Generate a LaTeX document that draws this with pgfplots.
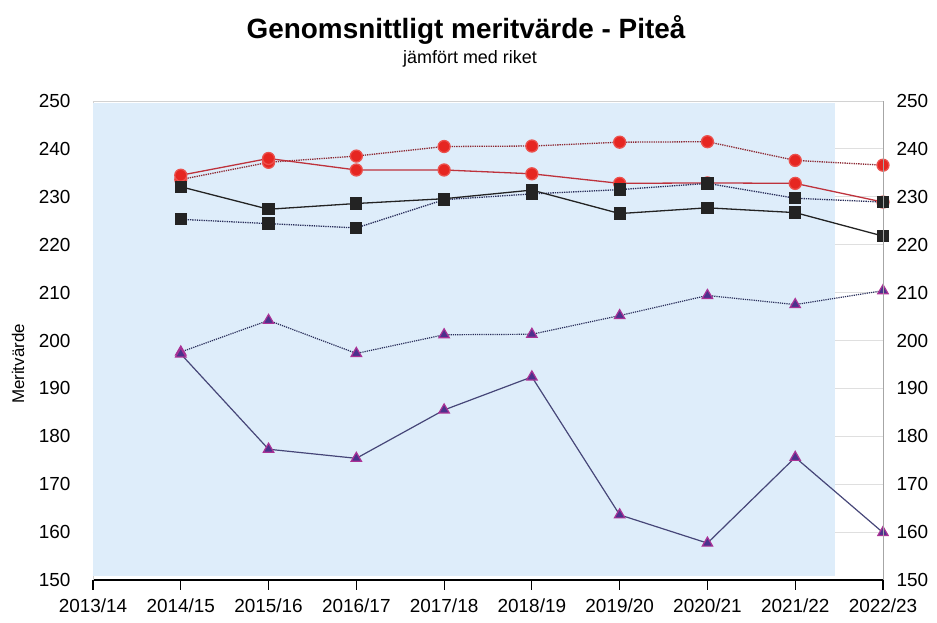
\documentclass[border=0pt]{standalone}
\usepackage{fontspec}
\setmainfont{Liberation Sans}
\usepackage{pgfplots}
\usepackage{pgfplotstable}
\pgfplotsset{compat=1.18}
\definecolor{bgblue}{RGB}{222,237,250}
\definecolor{redfill}{RGB}{230,38,33}
\definecolor{redline}{RGB}{190,50,60}
\definecolor{reddot}{RGB}{140,40,50}
\definecolor{sqfill}{RGB}{35,35,35}
\definecolor{navydot}{RGB}{40,45,90}
\definecolor{trifill}{RGB}{75,50,140}
\definecolor{triedge}{RGB}{170,50,150}
\definecolor{triline}{RGB}{70,70,120}
\pgfplotstableread{
x rd rs bs bd td ts
1 233.6 234.5 232.1 225.3 197.6 197.2
2 237.2 238.0 227.4 224.4 204.2 177.3
3 238.5 235.6 228.6 223.5 197.3 175.4
4 240.5 235.6 229.6 229.4 201.2 185.5
5 240.6 234.8 231.4 230.6 201.3 192.4
6 241.4 232.8 226.5 231.5 205.2 163.6
7 241.5 232.9 227.7 232.8 209.4 157.7
8 237.6 232.8 226.7 229.7 207.5 175.6
9 236.6 228.9 221.8 228.9 210.4 159.9
}\data
\begin{document}
\begin{tikzpicture}
\path[use as bounding box] (-93bp,-43bp) rectangle (844bp,580bp);
\begin{axis}[
  at={(0,0)}, anchor=south west,
  scale only axis, width=790bp, height=479bp,
  xmin=0, xmax=9, ymin=150, ymax=250,
  axis x line*=bottom, axis y line*=left,
  x axis line style={black, line width=1.2bp, -},
  y axis line style={gray!35, -},
  xtick={0,...,9},
  xticklabels={2013/14,2014/15,2015/16,2016/17,2017/18,2018/19,2019/20,2020/21,2021/22,2022/23},
  x tick style={black, line width=1.2bp},
  major tick length=10bp,
  tick align=outside,
  ytick={150,160,...,250},
  y tick style={draw=none},
  ymajorgrids, grid style={gray!25, line width=0.8bp},
  tick label style={font=\fontsize{19}{22}\selectfont},
  yticklabel style={xshift=-9bp},
  xticklabel style={yshift=-5bp},
  /pgf/number format/assume math mode=true,
  clip=false,
]
\fill[bgblue] (axis cs:0,150.8) rectangle (axis cs:8.45,249.6);
\draw[gray!35] (axis cs:0,250) -- (axis cs:9,250);
\addplot[reddot, densely dotted, line width=1.3bp, mark=*, mark size=6bp, mark options={solid, fill=redfill, draw=redfill!80!white}] table[x=x,y=rd]{\data};
\addplot[redline, line width=1.3bp, mark=*, mark size=6bp, mark options={solid, fill=redfill, draw=redfill!80!white}] table[x=x,y=rs]{\data};
\addplot[navydot, densely dotted, line width=1.3bp, mark=square*, mark size=5.5bp, mark options={solid, fill=sqfill, draw=sqfill}] table[x=x,y=bd]{\data};
\addplot[sqfill, line width=1.3bp, mark=square*, mark size=5.5bp, mark options={solid, fill=sqfill, draw=sqfill}] table[x=x,y=bs]{\data};
\addplot[navydot, densely dotted, line width=1.2bp, mark=triangle*, mark size=6bp, mark options={solid, fill=trifill, draw=triedge}] table[x=x,y=td]{\data};
\addplot[triline, line width=1.2bp, mark=triangle*, mark size=6bp, mark options={solid, fill=trifill, draw=triedge}] table[x=x,y=ts]{\data};
\end{axis}
\begin{axis}[
  at={(0,0)}, anchor=south west,
  scale only axis, width=790bp, height=479bp,
  xmin=0, xmax=9, ymin=150, ymax=250,
  axis x line=none, axis y line*=right,
  y axis line style={gray!70, line width=0.8bp, -},
  ytick={150,160,...,250},
  y tick style={draw=none},
  yticklabel pos=right,
  tick label style={font=\fontsize{19}{22}\selectfont},
  yticklabel style={xshift=10bp},
  /pgf/number format/assume math mode=true,
]
\end{axis}
\node[font=\bfseries\fontsize{28}{32}\selectfont] at (373bp,550bp) {Genomsnittligt meritvärde - Piteå};
\node[font=\fontsize{18}{21}\selectfont] at (377bp,521bp) {jämfört med riket};
\node[font=\fontsize{17}{20}\selectfont, rotate=90] at (-75bp,216bp) {Meritvärde};
\end{tikzpicture}
\end{document}
